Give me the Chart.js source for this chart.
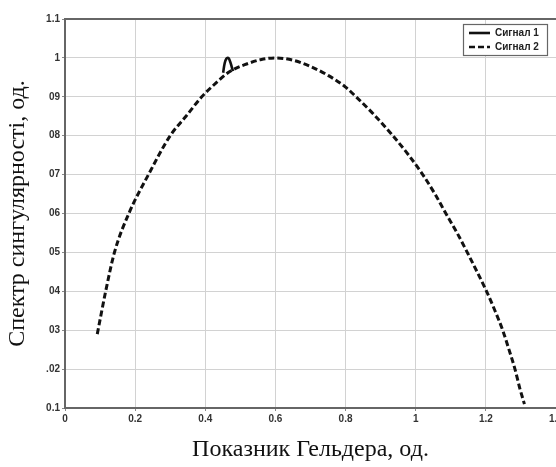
<!DOCTYPE html>
<html>
<head>
<meta charset="utf-8">
<script src="https://cdn.jsdelivr.net/npm/chart.js@4.4.0/dist/chart.umd.min.js"></script>
<style>
  html, body { margin: 0; padding: 0; background: #fff; overflow: hidden; }
  #wrap { width: 556px; height: 467px; }
</style>
</head>
<body>
<div id="wrap"><canvas id="c" width="556" height="467"></canvas></div>
<script>
// ---------------- data ----------------
const seriesNames = ["Сигнал 1", "Сигнал 2"];

// Сигнал 1: only the small arch near x ~ 0.46 is visible
const signal1X = [0.451, 0.455, 0.460, 0.466, 0.471, 0.476, 0.479];
const signal1Y = [0.962, 0.985, 0.998, 1.000, 0.990, 0.975, 0.966];

// Сигнал 2: the dashed spectrum
const signal2X = [0.092, 0.116, 0.141, 0.182, 0.238, 0.300, 0.345, 0.390, 0.430,
                  0.470, 0.520, 0.560, 0.600, 0.650, 0.700, 0.750, 0.800, 0.830, 0.880,
                  0.930, 0.980, 1.020, 1.055, 1.086, 1.118, 1.147, 1.175, 1.202, 1.226,
                  1.248, 1.266, 1.283, 1.297, 1.310];
const signal2Y = [0.290, 0.400, 0.500, 0.600, 0.700, 0.800, 0.850, 0.900, 0.935,
                  0.965, 0.985, 0.996, 1.000, 0.994, 0.978, 0.955, 0.925, 0.900, 0.855,
                  0.805, 0.750, 0.700, 0.650, 0.600, 0.550, 0.500, 0.450, 0.400, 0.350,
                  0.300, 0.250, 0.200, 0.150, 0.110];

// tick labels as printed on the scan
const xTickLabels = { 0: "0", 2: "0.2", 4: "0.4", 6: "0.6", 8: "0.8", 10: "1", 12: "1.2", 14: "1.4" };
const yTickLabels = { 1: "0.1", 2: ".02", 3: "03", 4: "04", 5: "05", 6: "06", 7: "07", 8: "08", 9: "09", 10: "1", 11: "1.1" };

const xTitle = "Показник Гельдера, од.";
const yTitle = "Спектр сингулярності, од.";

function toPoints(xs, ys) {
  return xs.map((x, i) => ({ x: x, y: ys[i] }));
}

//---------------- legend drawn inside the plot ----------------
const boxLegend = {
  id: "boxLegend",
  afterDraw(chart) {
    const ctx = chart.ctx;
    const area = chart.chartArea;
    const w = 84, h = 31;
    const x0 = area.right - 93, y0 = area.top + 5;
    ctx.save();
    ctx.fillStyle = "#fff";
    ctx.fillRect(x0, y0, w, h);
    ctx.strokeStyle = "#666";
    ctx.lineWidth = 1.2;
    ctx.strokeRect(x0 + 0.5, y0 + 0.5, w, h);
    chart.data.datasets.forEach((ds, i) => {
      const y = y0 + 9 + i * 14;
      ctx.strokeStyle = ds.borderColor;
      ctx.lineWidth = 2.6;
      ctx.setLineDash(ds.borderDash || []);
      ctx.beginPath();
      ctx.moveTo(x0 + 6, y);
      ctx.lineTo(x0 + 27, y);
      ctx.stroke();
      ctx.setLineDash([]);
      ctx.fillStyle = "#222";
      ctx.font = "bold 10px 'Liberation Sans', Arial, sans-serif";
      ctx.textBaseline = "middle";
      ctx.fillText(ds.label, x0 + 32, y + 0.5);
    });
    ctx.restore();
  }
};

const tickFont = { family: "'Liberation Sans', Arial, sans-serif", size: 10, weight: "bold" };
const titleFont = { family: "'Liberation Serif', 'Times New Roman', serif", size: 24 };

new Chart(document.getElementById("c").getContext("2d"), {
  type: "scatter",
  data: {
    datasets: [
      {
        label: seriesNames[0],
        data: toPoints(signal1X, signal1Y),
        showLine: true,
        borderColor: "#111",
        borderWidth: 2.6,
        pointRadius: 0,
        tension: 0.4,
      },
      {
        label: seriesNames[1],
        data: toPoints(signal2X, signal2Y),
        showLine: true,
        borderColor: "#111",
        borderWidth: 3,
        borderDash: [6, 3],
        pointRadius: 0,
        cubicInterpolationMode: "monotone",
      },
    ],
  },
  options: {
    responsive: false,
    animation: false,
    layout: { padding: { top: 19, right: 0, left: 0, bottom: 0 } },
    plugins: { legend: { display: false }, tooltip: { enabled: false } },
    scales: {
      x: {
        type: "linear",
        min: 0,
        max: 1.4,
        afterBuildTicks: (s) => { s.ticks = Object.keys(xTickLabels).map((k) => ({ value: k / 10 })); },
        afterFit: (s) => { s.height = 59; s.paddingRight = 0; s.paddingLeft = 0; },
        ticks: {
          autoSkip: false,
          maxRotation: 0,
          padding: 2,
          color: "#333",
          font: tickFont,
          callback: (v) => xTickLabels[Math.round(v * 10)],
        },
        grid: { color: "#d2d2d2", tickLength: 3, tickColor: "#888", lineWidth: 1 },
        border: { display: true, color: "#666", width: 2 },
        title: { display: true, text: xTitle, color: "#111", font: titleFont, padding: { top: 0, bottom: 3 } },
      },
      xTop: {
        type: "linear",
        position: "top",
        min: 0,
        max: 1.4,
        afterFit: (s) => { s.height = 0; },
        ticks: { display: false },
        grid: { display: false, drawTicks: false },
        border: { display: true, color: "#666", width: 2 },
      },
      y: {
        type: "linear",
        min: 0.1,
        max: 1.1,
        afterBuildTicks: (s) => { s.ticks = Object.keys(yTickLabels).map((k) => ({ value: k / 10 })); },
        afterFit: (s) => { s.width = 65; },
        ticks: {
          autoSkip: false,
          padding: 2,
          color: "#333",
          font: tickFont,
          callback: (v) => yTickLabels[Math.round(v * 10)],
        },
        grid: { color: "#d2d2d2", tickLength: 3, tickColor: "#888", lineWidth: 1 },
        border: { display: true, color: "#666", width: 2 },
        title: { display: true, text: yTitle, color: "#111", font: titleFont, padding: { top: 3, bottom: 0 } },
      },
    },
  },
  plugins: [boxLegend],
});
</script>
</body>
</html>
